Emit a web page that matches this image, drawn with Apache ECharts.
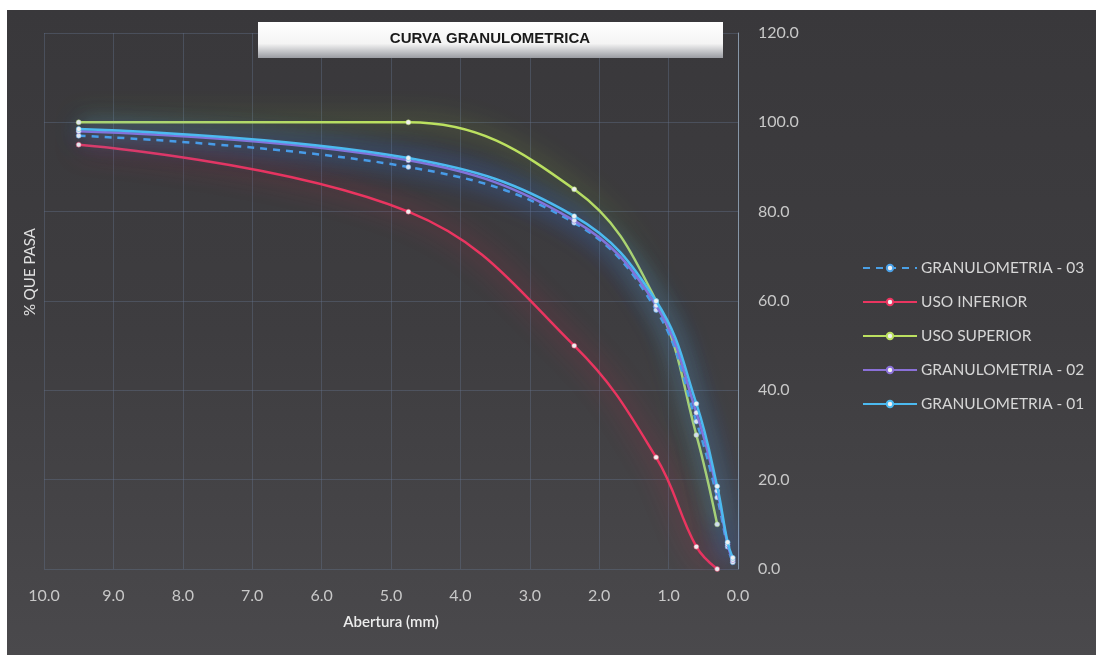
<!DOCTYPE html>
<html>
<head>
<meta charset="utf-8">
<script src="https://cdn.jsdelivr.net/npm/echarts@6/dist/echarts.min.js"></script>
<style>
html,body{margin:0;padding:0;background:#fff;}
#wrap{position:relative;width:1096px;height:655px;background:#fff;overflow:hidden;}
#bg{position:absolute;left:7px;top:10px;right:0;bottom:0;background:linear-gradient(180deg,#39383b 0%,#3e3d40 50%,#4a494c 100%);}
#chart{position:absolute;left:0;top:0;width:1096px;height:655px;}
</style>
</head>
<body>
<div id="wrap"><div id="bg"></div><div id="chart"></div></div>
<script>
const sieves = [9.5, 4.75, 2.36, 1.18, 0.6, 0.3, 0.15, 0.075];
const limitSieves = [9.5, 4.75, 2.36, 1.18, 0.6, 0.3];
const usoInferior = [95, 80, 50, 25, 5, 0];
const usoSuperior = [100, 100, 85, 60, 30, 10];
const gran01 = [98.5, 92, 79, 60, 37, 18.5, 6, 2.5];
const gran02 = [98, 91.5, 78, 59, 35, 17.5, 5.5, 2];
const gran03 = [97, 90, 77.5, 58, 33, 16, 5, 1.5];
const seriesNames = ['GRANULOMETRIA - 03', 'USO INFERIOR', 'USO SUPERIOR', 'GRANULOMETRIA - 02', 'GRANULOMETRIA - 01'];
const xTicks = [0, 1, 2, 3, 4, 5, 6, 7, 8, 9, 10];
const yTicks = [0, 20, 40, 60, 80, 100, 120];

function pairs(xs, ys){ return xs.map((x,i)=>[x, ys[i]]); }
function mk(name, xs, ys, color, glow, dashed, z){
  return {
    name: name, type: 'line', smooth: 0.4, z: z,
    data: pairs(xs, ys),
    symbol: 'circle', symbolSize: 5,
    itemStyle: {color: '#f0f0f0', borderColor: color, borderWidth: 0.5},
    lineStyle: {color: color, width: 2.5, type: dashed ? [7,6] : 'solid', shadowColor: glow, shadowBlur: 26},
    emphasis: {disabled: true}
  };
}
const chart = echarts.init(document.getElementById('chart'));
chart.setOption({
  backgroundColor: 'transparent',
  animation: false,
  textStyle: {fontFamily: 'Lato'},
  grid: {left: 44, right: 358, top: 33, bottom: 86},
  xAxis: {
    type: 'value', inverse: true, min: xTicks[0], max: xTicks[xTicks.length-1], interval: 1,
    name: 'Abertura (mm)', nameLocation: 'middle', nameGap: 46,
    nameTextStyle: {color: '#ececec', fontSize: 15, fontWeight: 600, fontFamily: 'Lato'},
    axisLine: {show: false}, axisTick: {show: false},
    axisLabel: {color: '#c8c8c8', fontSize: 16, margin: 19, formatter: v => v.toFixed(1)},
    splitLine: {show: true, lineStyle: {color: 'rgba(100,115,140,0.4)', width: 1}}
  },
  yAxis: {
    type: 'value', position: 'right', min: yTicks[0], max: yTicks[yTicks.length-1], interval: 20,
    axisLine: {show: true, onZero: false, lineStyle: {color: '#8797a8', width: 1}},
    axisTick: {show: false},
    axisLabel: {color: '#c8c8c8', fontSize: 16, margin: 20, formatter: v => v.toFixed(1)},
    splitLine: {show: true, lineStyle: {color: 'rgba(100,115,140,0.4)', width: 1}}
  },
  legend: {
    orient: 'vertical', left: 857, top: 255, itemGap: 18, itemWidth: 54, itemHeight: 8,
    data: seriesNames,
    textStyle: {color: '#d6d6d6', fontSize: 15.5, fontFamily: 'Lato', padding: [0,0,0,-1]}
  },
  graphic: [
    {type: 'rect', x: 258, y: 22, shape: {width: 465, height: 36},
     style: {fill: new echarts.graphic.LinearGradient(0,0,0,1,[{offset:0,color:'#ffffff'},{offset:0.6,color:'#f4f4f4'},{offset:1,color:'#9a9ca2'}])}, z: 10},
    {type: 'text', x: 490, y: 31, z: 11, style: {text: 'CURVA GRANULOMETRICA', fill: '#1a1a1a', font: 'bold 15px "Liberation Sans"', textAlign: 'center'}},
    {type: 'text', x: 23, y: 316, rotation: Math.PI/2, z: 11, style: {text: '% QUE PASA', fill: '#e0e0e0', font: '15px Lato', textAlign: 'left'}}
  ],
  series: [
    mk(seriesNames[1], limitSieves, usoInferior, '#ea3560', 'rgba(240,40,80,0.95)', false, 2),
    mk(seriesNames[2], limitSieves, usoSuperior, '#bce060', 'rgba(170,230,60,0.85)', false, 3),
    mk(seriesNames[0], sieves, gran03, '#4aa0e6', 'rgba(40,130,255,0.95)', true, 4),
    mk(seriesNames[3], sieves, gran02, '#8a70d8', 'rgba(100,110,255,0.85)', false, 5),
    mk(seriesNames[4], sieves, gran01, '#4cbaf0', 'rgba(40,160,255,0.95)', false, 6)
  ]
});
</script>
</body>
</html>
